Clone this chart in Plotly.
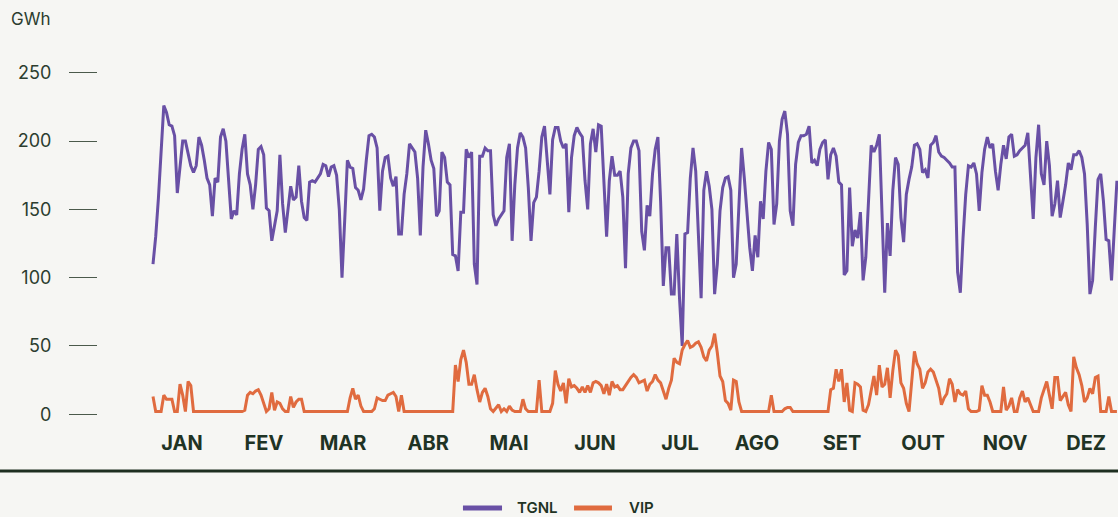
import plotly.graph_objects as go

# Daily values (GWh), day index 0 = 1 Jan
tgnl = [
    110,130,158,195,226,221,212,211,204,162,
    181,200,200,190,182,177,182,203,197,186,
    173,168,145,173,170,203,209,200,171,143,
    149,146,176,194,205,176,168,150,168,194,
    196,190,151,149,127,139,149,190,154,133,
    149,167,157,159,182,156,144,142,170,171,
    170,173,176,183,182,174,181,182,175,150,
    100,142,186,181,180,166,164,157,165,186,
    204,205,203,195,149,178,188,189,173,167,
    174,132,132,161,176,198,195,192,173,131,
    181,208,198,186,180,145,149,192,188,170,
    168,117,116,105,148,148,194,188,192,110,
    95,189,189,195,193,193,146,138,143,146,
    149,188,198,127,168,195,206,203,195,166,
    127,155,159,178,203,211,186,161,201,210,
    210,200,195,198,148,188,204,210,206,203,
    171,150,198,209,192,212,211,166,130,171,
    189,175,175,178,159,107,176,195,200,200,
    193,134,120,153,145,176,194,203,156,94,
    122,122,88,88,132,85,50,132,133,173,
    195,178,127,85,164,178,167,150,88,110,
    149,166,173,174,164,100,110,151,195,173,
    149,122,105,131,115,156,143,178,199,194,
    139,154,200,216,222,205,149,138,183,199,
    204,204,205,211,184,186,182,194,199,201,
    172,190,195,189,170,168,102,105,166,123,
    135,129,148,98,115,154,197,192,197,205,
    151,89,140,116,164,188,183,144,126,161,
    172,181,197,198,194,177,179,173,197,199,
    204,192,189,188,186,184,181,181,104,89,
    129,161,182,181,184,176,149,177,194,203,
    195,198,178,164,183,197,187,203,205,189,
    190,193,195,197,206,173,143,188,212,176,
    168,200,182,145,154,171,144,156,168,184,
    179,190,190,193,188,176,139,88,98,137,
    172,176,156,128,127,98,134,171,
]

vip = [
    13,2,2,2,14,11,11,11,2,2,
    22,14,2,24,21,2,2,2,2,2,
    2,2,2,2,2,2,2,2,2,2,
    2,2,2,2,3,14,16,15,17,18,
    14,8,2,4,16,3,9,8,4,2,
    2,13,5,9,11,11,2,2,2,2,
    2,2,2,2,2,2,2,2,2,2,
    2,2,2,12,19,11,14,6,2,2,
    2,2,4,12,11,10,10,14,15,16,
    13,2,14,2,2,2,2,2,2,2,
    2,2,2,2,2,2,2,2,2,2,
    2,2,36,24,40,47,38,22,22,29,
    18,9,16,19,13,4,2,5,7,2,
    4,2,6,3,2,2,2,11,4,2,
    2,2,2,25,2,2,2,2,8,32,
    22,17,23,8,26,20,21,19,16,20,
    16,21,16,23,24,23,21,15,22,14,
    24,20,21,18,18,21,24,27,29,27,
    23,24,25,17,22,24,29,25,23,17,
    11,19,25,41,38,37,47,51,54,49,
    50,52,53,49,42,39,47,50,59,45,
    28,24,10,8,3,25,24,9,2,2,
    2,2,2,2,2,2,2,2,2,14,
    2,2,2,2,4,5,5,2,2,2,
    2,2,2,2,2,2,2,2,2,2,
    2,18,19,33,24,33,9,23,3,2,
    23,22,20,3,2,7,18,28,14,36,
    20,22,34,12,32,47,43,23,19,8,
    2,24,46,37,33,19,23,31,33,31,
    25,19,7,12,15,26,22,9,18,15,
    14,17,4,2,2,2,3,21,14,14,
    9,2,2,2,2,20,3,6,12,2,
    2,12,17,9,12,7,2,2,2,12,
    19,24,14,4,27,27,10,13,16,7,
    2,42,34,29,21,9,12,19,15,27,
    28,2,2,2,13,2,2,2,
]

months = ["JAN", "FEV", "MAR", "ABR", "MAI", "JUN", "JUL", "AGO", "SET", "OUT", "NOV", "DEZ"]
month_tick_days = [10.7, 41.1, 70.4, 101.9, 131.9, 163.7, 195.2, 223.7, 255.2, 285.2, 315.6, 345.6]
y_ticks = [0, 50, 100, 150, 200, 250]
series_names = ["TGNL", "VIP"]

days = list(range(len(tgnl)))

BG = "#f6f6f3"
DARK = "#1f3324"
PURPLE = "#6950a5"
ORANGE = "#e06b3f"
colors = [PURPLE, ORANGE]

fig = go.Figure()
fig.add_trace(go.Scatter(x=days, y=tgnl, mode="lines", name=series_names[0],
                         line=dict(color=PURPLE, width=3)))
fig.add_trace(go.Scatter(x=list(range(len(vip))), y=vip, mode="lines", name=series_names[1],
                         line=dict(color=ORANGE, width=3)))

# manual legend (swatch + label) below the separator line
legend_y = -0.2444
swatch_x = [(0.3578, 0.3961), (0.4667, 0.5039)]
label_x = [0.4088, 0.5186]
shapes = [dict(type="line", xref="paper", yref="paper", x0=-0.1, x1=1.0,
               y0=-0.1417, y1=-0.1417, line=dict(color="#1e2f20", width=3))]
annotations = [dict(text="GWh", xref="paper", yref="paper", x=-0.087, y=1.115,
                    xanchor="left", yanchor="middle", showarrow=False,
                    font=dict(size=17, color="#2c3d2f", family="Inter, sans-serif"))]
for name, col, (sx0, sx1), lx in zip(series_names, colors, swatch_x, label_x):
    shapes.append(dict(type="line", xref="paper", yref="paper", x0=sx0, x1=sx1,
                       y0=legend_y, y1=legend_y, line=dict(color=col, width=5)))
    annotations.append(dict(text=name, xref="paper", yref="paper", x=lx, y=legend_y,
                            xanchor="left", yanchor="middle", showarrow=False,
                            font=dict(size=15, color=DARK, family="Inter, sans-serif", weight=600)))

fig.update_layout(
    width=1118, height=517,
    paper_bgcolor=BG, plot_bgcolor=BG,
    margin=dict(l=98, r=0, t=60, b=97),
    font=dict(family="Inter, Lato, sans-serif", color=DARK),
    showlegend=False,
    xaxis=dict(range=[-20.37, 357.4], tickmode="array", tickvals=month_tick_days,
               ticktext=months, showgrid=False, zeroline=False, showline=False,
               ticks="", tickfont=dict(size=20, color=DARK, family="Inter, sans-serif", weight=700),
               ticklabelstandoff=9, fixedrange=True, automargin=False),
    yaxis=dict(range=[-4.2, 259.4], tickmode="array", tickvals=y_ticks,
               showgrid=False, zeroline=False, showline=False,
               ticks="outside", ticklen=28, tickwidth=1, tickcolor="#4b5a4b",
               tickfont=dict(size=18, color="#2c3d2f", family="Inter, sans-serif"),
               ticklabelstandoff=14, fixedrange=True, automargin=False),
    shapes=shapes,
    annotations=annotations,
)

fig.write_html("out.html", config={"displayModeBar": False},
               post_script="document.body.style.margin='0px';document.body.style.overflow='hidden';")
